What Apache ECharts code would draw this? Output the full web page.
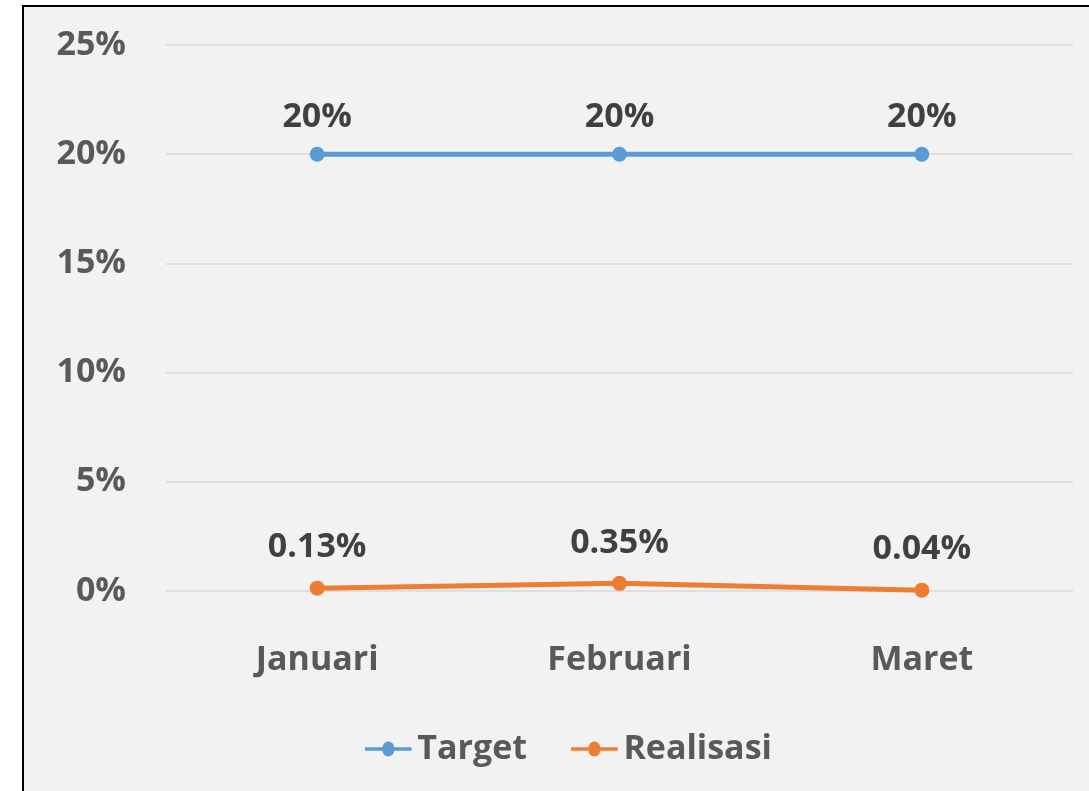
<!DOCTYPE html>
<html><head><meta charset="utf-8">
<script src="https://cdn.jsdelivr.net/npm/echarts@6/dist/echarts.min.js"></script>
<style>
html,body{margin:0;padding:0;background:#fff;width:1089px;height:791px;overflow:hidden;}
#frame{position:absolute;left:22px;top:5px;width:1100px;height:800px;border:2px solid #000;background:#f2f2f2;box-sizing:border-box;}
#c{position:absolute;left:0;top:0;width:1089px;height:791px;}
</style></head>
<body><div id="frame"></div><div id="c"></div>
<script>
const categories = ['Januari', 'Februari', 'Maret'];
const targetValues = [20, 20, 20];
const realisasiValues = [0.13, 0.35, 0.04];
const targetLabels = ['20%', '20%', '20%'];
const realisasiLabels = ['0.13%', '0.35%', '0.04%'];
const yTicks = [0, 5, 10, 15, 20, 25];

const FONT = '"Open Sans", sans-serif';
const FS = 34;
const ICON = 'path://M0,5 L21,5 A7,7 0 0 1 35,5 L56,5 L56,9 L35,9 A7,7 0 0 1 21,9 L0,9 Z';
const chart = echarts.init(document.getElementById('c'), null, {renderer: 'canvas'});
chart.setOption({
  backgroundColor: 'transparent',
  animation: false,
  grid: {left: 166, right: 16, top: 45, bottom: 200},
  legend: {
    bottom: 20, left: 360,
    itemWidth: 60, itemHeight: 15, itemGap: 44,
    textStyle: {fontFamily: FONT, fontWeight: 'bold', fontSize: FS, color: '#595959', padding: [0,0,0,-6]},
    data: [
      {name: 'Target', icon: ICON},
      {name: 'Realisasi', icon: ICON}
    ]
  },
  xAxis: {
    type: 'category', data: categories, boundaryGap: true,
    axisLine: {show: false}, axisTick: {show: false},
    axisLabel: {fontFamily: FONT, fontWeight: 'bold', fontSize: FS, color: '#595959', margin: 52}
  },
  yAxis: {
    type: 'value', min: 0, max: 25, interval: 5,
    axisLine: {show: false}, axisTick: {show: false},
    splitLine: {lineStyle: {color: '#d9d9d9', width: 1.5}},
    axisLabel: {fontFamily: FONT, fontWeight: 'bold', fontSize: FS, color: '#595959', margin: 40,
      formatter: v => yTicks.includes(v) ? v + '%' : ''}
  },
  series: [
    {name: 'Target', type: 'line', data: targetValues, color: '#5b9bd5',
     symbol: 'circle', symbolSize: 15, lineStyle: {width: 5, color: '#5b9bd5'},
     itemStyle: {color: '#5b9bd5'},
     label: {show: true, position: 'top', distance: 12, fontFamily: FONT, fontWeight: 'bold', fontSize: FS, color: '#404040',
       formatter: p => targetLabels[p.dataIndex]}},
    {name: 'Realisasi', type: 'line', data: realisasiValues, color: '#ed7d31',
     symbol: 'circle', symbolSize: 15, lineStyle: {width: 5, color: '#ed7d31'},
     itemStyle: {color: '#ed7d31'},
     label: {show: true, position: 'top', distance: 16, fontFamily: FONT, fontWeight: 'bold', fontSize: FS, color: '#404040',
       formatter: p => realisasiLabels[p.dataIndex]}}
  ]
});
</script></body></html>
